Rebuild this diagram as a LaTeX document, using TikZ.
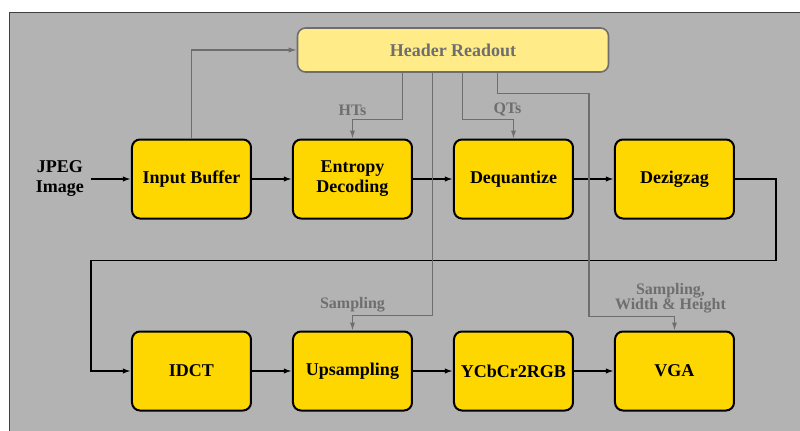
\documentclass[tikz,border=0pt]{standalone}
\usepackage{fontspec}
\setmainfont{Liberation Serif}
\usetikzlibrary{positioning,arrows.meta,calc}
\definecolor{bggray}{HTML}{B3B3B3}
\definecolor{boxgold}{HTML}{FFD700}
\definecolor{hdrfill}{HTML}{FFEB88}
\definecolor{infogray}{HTML}{6E6E6E}

\begin{document}
\begin{tikzpicture}[node distance=55.5pt and 20pt, every node/.style={font=\bfseries\fontsize{9}{10}\selectfont},
    box/.style={draw, line width=1pt, rounded corners=4pt, fill=boxgold, minimum width=59.5pt, minimum height=39.5pt, align=center},
    hdr/.style={draw=infogray, line width=0.8pt, rounded corners=4pt, fill=hdrfill, text=infogray, minimum width=155.5pt, minimum height=22pt},
    flow/.style={line width=0.8pt, -{Latex[length=4pt,width=2.6pt]}},
    info/.style={draw=infogray, line width=0.6pt, -{Latex[length=4pt,width=2.6pt]}},
    lbl/.style={text=infogray, font=\bfseries\fontsize{8}{7.5}\selectfont, align=center, inner sep=1.5pt}]
    \useasboundingbox (-95.75pt,-125.5pt) rectangle (304.25pt,89.5pt);
    \clip (-95.75pt,-125.5pt) rectangle (304.25pt,89.5pt);
    \filldraw[fill=bggray, draw=black!75, line width=0.5pt] (-90.75pt,-140pt) rectangle (320pt,83.5pt);
    % decoder stages
    \node[box] (inbuf) {Input Buffer};
    \node[box, right=of inbuf] (entropy) {Entropy\\Decoding};
    \node[box, right=of entropy] (deq) {Dequantize};
    \node[box, right=of deq] (dezz) {Dezigzag};
    \node[box, below=of inbuf] (idct) {IDCT};
    \node[box, right=of idct] (upsmp) {Upsampling};
    \node[box, right=of upsmp] (ycc) {YCbCr2RGB};
    \node[box, right=of ycc] (vga) {VGA};
    \node[left=of inbuf, align=center] (jpeg) {JPEG\\Image};
    \node[hdr] (head) at ($(deq.west)+(0,64.5pt)$) {Header Readout};
    \coordinate (vgak) at ($(vga.north)+(0,7pt)$);
    % data path
    \draw[flow] (jpeg) -- (inbuf);
    \draw[flow] (inbuf) -- (entropy);
    \draw[flow] (entropy) -- (deq);
    \draw[flow] (deq) -- (dezz);
    \draw[flow] (dezz.east) -| ($(dezz.south east)+(20.5pt,-20.5pt)$) -| ($(idct.west)+(-20pt,0)$) -- (idct.west);
    \draw[flow] (idct) -- (upsmp);
    \draw[flow] (upsmp) -- (ycc);
    \draw[flow] (ycc) -- (vga);
    % header information
    \draw[info] (inbuf.north) |- (head.west);
    \draw[info] ($(head.south)+(-25.25pt,0)$) |- ($(entropy.north)+(0,9.5pt)$) node[lbl, above] {HTs} -- (entropy.north);
    \draw[info] ($(head.south)+(4.75pt,0)$) |- ($(deq.north)+(0,9.5pt)$) node[lbl, above, xshift=-3pt] {QTs} -- (deq.north);
    \draw[info] ($(head.south)+(-10.25pt,0)$) |- ($(upsmp.north)+(0,7.5pt)$) node[lbl, above] {Sampling} -- (upsmp.north);
    \draw[info] ($(head.south)+(22.25pt,0)$) |- ($(deq.north east)+(7.5pt,22.5pt)$) -- ($(deq.east |- vgak)+(7.5pt,0)$) -- (vgak) node[lbl, above, xshift=-2pt] {Sampling,\\Width \& Height} -- (vga.north);
\end{tikzpicture}
\end{document}
